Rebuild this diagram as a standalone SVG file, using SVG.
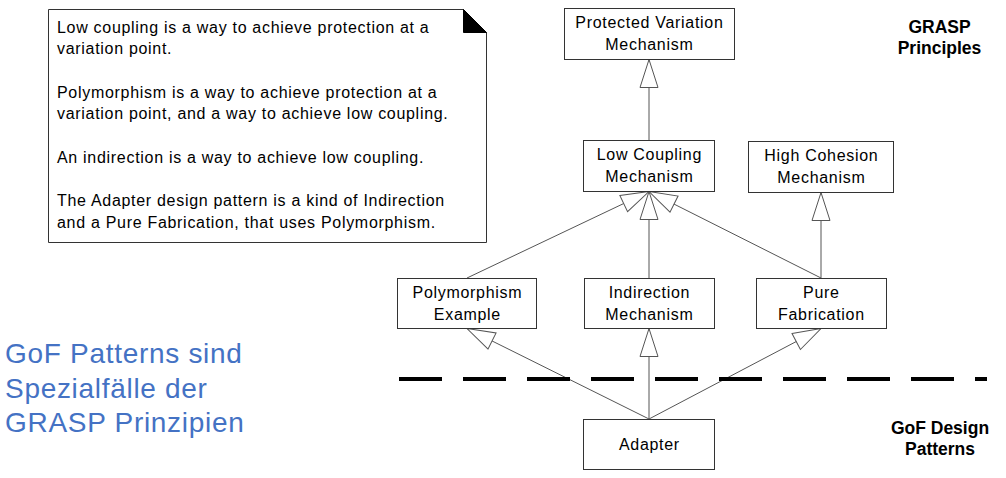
<svg xmlns="http://www.w3.org/2000/svg" width="1006" height="478" viewBox="0 0 1006 478">
<style>
.box{fill:#fff;stroke:#333;stroke-width:1}
.t{font-family:"Liberation Sans",Arial,sans-serif;font-size:16px;letter-spacing:0.7px;fill:#000}
.c{text-anchor:middle}
.b{font-family:"Liberation Sans",Arial,sans-serif;font-size:17.5px;font-weight:bold;fill:#000;text-anchor:middle}
.blue{font-family:"Liberation Sans",Arial,sans-serif;font-size:28px;letter-spacing:0.7px;fill:#4472C4}
.con{stroke:#555;stroke-width:1;fill:none;marker-end:url(#gen)}
</style>
<defs>
<marker id="gen" viewBox="-1 -1 30 20" markerWidth="30" markerHeight="20" refX="28" refY="9" orient="auto" markerUnits="userSpaceOnUse" overflow="visible">
<path d="M0,0 L28,9 L0,18 Z" fill="#fff" stroke="#555" stroke-width="1"/>
</marker>
</defs>
<rect width="1006" height="478" fill="#fff"/>

<g id="note">
<path d="M48.5,9.5 H463.5 L486.5,32.5 V242.5 H48.5 Z" fill="#fff" stroke="#333" stroke-width="1"/>
<path d="M463.5,9.5 L486.5,32.5 H463.5 Z" fill="#000" stroke="#000" stroke-width="1"/>
<text class="t" x="57" y="33">Low coupling is a way to achieve protection at a</text>
<text class="t" x="57" y="54">variation point.</text>
<text class="t" x="57" y="97.5">Polymorphism is a way to achieve protection at a</text>
<text class="t" x="57" y="119">variation point, and a way to achieve low coupling.</text>
<text class="t" x="57" y="162.5">An indirection is a way to achieve low coupling.</text>
<text class="t" x="57" y="206">The Adapter design pattern is a kind of Indirection</text>
<text class="t" x="57" y="227.5">and a Pure Fabrication, that uses Polymorphism.</text>
</g>

<g id="connectors">
<line class="con" x1="649" y1="140" x2="649" y2="59.5"/>
<line class="con" x1="649" y1="278" x2="649" y2="191.5"/>
<line class="con" x1="467" y1="278" x2="649" y2="191.5"/>
<line class="con" x1="821" y1="278" x2="649" y2="191.5"/>
<line class="con" x1="821" y1="278" x2="821" y2="192.5"/>
<line class="con" x1="649" y1="419" x2="467" y2="328.5"/>
<line class="con" x1="649" y1="419" x2="649" y2="328.5"/>
<line class="con" x1="649" y1="419" x2="821" y2="328.5"/>
</g>

<g id="pv">
<rect class="box" x="564.5" y="8.5" width="170" height="51"/>
<text class="t c" x="649.4" y="28">Protected Variation</text>
<text class="t c" x="649.4" y="49.5">Mechanism</text>
</g>
<g id="lc">
<rect class="box" x="583.5" y="140.5" width="131" height="51"/>
<text class="t c" x="649.4" y="160">Low Coupling</text>
<text class="t c" x="649.4" y="181.5">Mechanism</text>
</g>
<g id="hc">
<rect class="box" x="748.5" y="141.5" width="145" height="51"/>
<text class="t c" x="821.4" y="161">High Cohesion</text>
<text class="t c" x="821.4" y="182.5">Mechanism</text>
</g>
<g id="pe">
<rect class="box" x="397.5" y="278.5" width="139" height="50"/>
<text class="t c" x="467.4" y="298">Polymorphism</text>
<text class="t c" x="467.4" y="319.5">Example</text>
</g>
<g id="im">
<rect class="box" x="584.5" y="278.5" width="130" height="50"/>
<text class="t c" x="649.4" y="298">Indirection</text>
<text class="t c" x="649.4" y="319.5">Mechanism</text>
</g>
<g id="pf">
<rect class="box" x="756.5" y="278.5" width="130" height="50"/>
<text class="t c" x="821.4" y="298">Pure</text>
<text class="t c" x="821.4" y="319.5">Fabrication</text>
</g>
<g id="ad">
<rect class="box" x="583.5" y="419.5" width="131" height="50"/>
<text class="t c" x="649.4" y="449.5">Adapter</text>
</g>

<g id="divider">
<line x1="399" y1="379" x2="987" y2="379" stroke="#000" stroke-width="4" stroke-dasharray="43 21"/>
</g>

<g id="labels">
<text class="b" x="939.5" y="33">GRASP</text>
<text class="b" x="939.5" y="54">Principles</text>
<text class="b" x="940" y="434">GoF Design</text>
<text class="b" x="940" y="455">Patterns</text>
<text class="blue" x="5" y="363">GoF Patterns sind</text>
<text class="blue" x="5" y="398">Spezialfälle der</text>
<text class="blue" x="5" y="432">GRASP Prinzipien</text>
</g>
</svg>
